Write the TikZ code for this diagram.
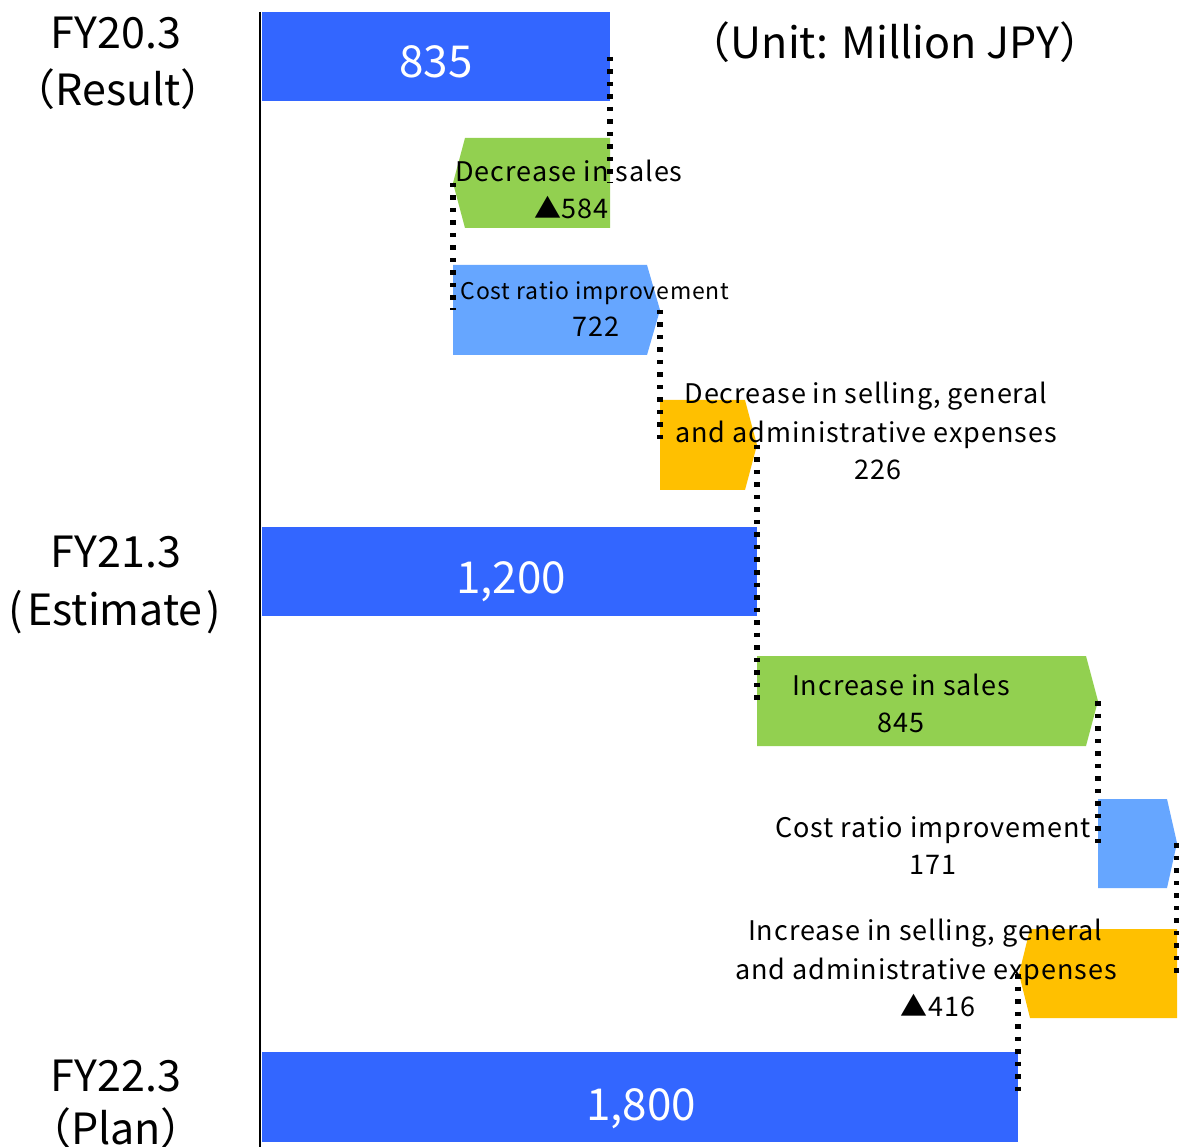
\documentclass[tikz,border=0pt]{standalone}
\usepackage{fontspec}
\setmainfont{Noto Sans CJK JP}
\newfontfamily\lblfont[LetterSpace=3.5]{Noto Sans CJK JP}
\definecolor{barblue}{HTML}{3366FF}
\definecolor{stepgreen}{HTML}{92D050}
\definecolor{steplight}{HTML}{66A6FF}
\definecolor{steporange}{HTML}{FFC000}
\tikzset{
  big/.style={font=\fontsize{43}{48}\selectfont, anchor=base, inner sep=0pt},
  barval/.style={font=\fontsize{44}{48}\selectfont, text=white, anchor=base, inner sep=0pt},
  lbl/.style={font=\lblfont\fontsize{27}{30}\selectfont, anchor=base, inner sep=0pt},
  lblsmall/.style={font=\lblfont\fontsize{23}{26}\selectfont, anchor=base, inner sep=0pt},
  guide/.style={line width=5.5pt, dash pattern=on 4.5pt off 8pt},
}
\begin{document}
\begin{tikzpicture}[x=1pt,y=-1pt]
\useasboundingbox[fill=white] (0,0) rectangle (1179,1147);

% totals
\fill[barblue] (262,12) rectangle (610,101);
\fill[barblue] (262,527) rectangle (757,616);
\fill[barblue] (262,1052) rectangle (1018,1142);

% changes
\fill[stepgreen] (610,138) -- (465,138) -- (453,183) -- (465,228) -- (610,228) -- cycle;
\fill[steplight] (453,265) -- (647,265) -- (660,310) -- (647,355) -- (453,355) -- cycle;
\fill[steporange] (660,400) -- (745,400) -- (757,445) -- (745,490) -- (660,490) -- cycle;
\fill[stepgreen] (757,656) -- (1086,656) -- (1098,701) -- (1086,746) -- (757,746) -- cycle;
\fill[steplight] (1098,799) -- (1167,799) -- (1177,843) -- (1167,888) -- (1098,888) -- cycle;
\fill[steporange] (1177,929) -- (1030,929) -- (1019,974) -- (1030,1018) -- (1177,1018) -- cycle;

% axis
\draw[line width=2pt] (260,12) -- (260,1147);

% period labels
\node[big] (p1a) at (116,49) {FY20.3};
\node[big] (p1b) at (118,106) {（Result）};
\node[big] (p2a) at (116,568) {FY21.3};
\node[big] (p2b) at (115,625) {(\kern4pt Estimate\kern4pt)};
\node[big] (p3a) at (116,1091) {FY22.3};
\node[big] (p3b) at (116,1144) {（Plan）};
\node[big] (unit) at (895,59) {（Unit: Million JPY）};

% totals values
\node[barval] (v1) at (436,78) {835};
\node[barval] (v2) at (511,594) {1,200};
\node[barval] (v3) at (641,1120) {1,800};

% change labels
\node[lbl] (s1) at (569,182) {Decrease in sales};
\node[lbl, anchor=base east] (s1v) at (609,219) {▲584};
\node[lblsmall] (c1) at (595,300) {Cost ratio improvement};
\node[lbl] (c1v) at (596,337) {722};
\node[lbl] (g1) at (866,404) {Decrease in selling, general};
\node[lbl] (g1b) at (866,443) {and administrative expenses};
\node[lbl] (g1v) at (878,480) {226};
\node[lbl] (s2) at (901,695) {Increase in sales};
\node[lbl] (s2v) at (901,732) {845};
\node[lbl] (c2) at (933,837) {Cost ratio improvement};
\node[lbl] (c2v) at (933,874) {171};
\node[lbl] (g2) at (925,940) {Increase in selling, general};
\node[lbl] (g2b) at (926,979) {and administrative expenses};
\node[lbl] (g2v) at (938,1016) {▲416};

% connector ends
\coordinate (k0) at (610,57);
\coordinate (k1) at (610,183);
\coordinate (k2) at (453,183);
\coordinate (k3) at (453,310);
\coordinate (k4) at (660,310);
\coordinate (k5) at (660,445);
\coordinate (k6) at (757,445);
\coordinate (k7) at (757,701);
\coordinate (k8) at (1098,701);
\coordinate (k9) at (1098,843);
\coordinate (k10) at (1177,843);
\coordinate (k11) at (1177,974);
\coordinate (k12) at (1018,974);
\coordinate (k13) at (1018,1097);

\draw[guide] (k0) -- (k1);
\draw[guide] (k2) -- (k3);
\draw[guide] (k4) -- (k5);
\draw[guide] (k6) -- (k7);
\draw[guide] (k8) -- (k9);
\draw[guide] (k10) -- (k11);
\draw[guide] (k12) -- (k13);
\end{tikzpicture}
\end{document}
